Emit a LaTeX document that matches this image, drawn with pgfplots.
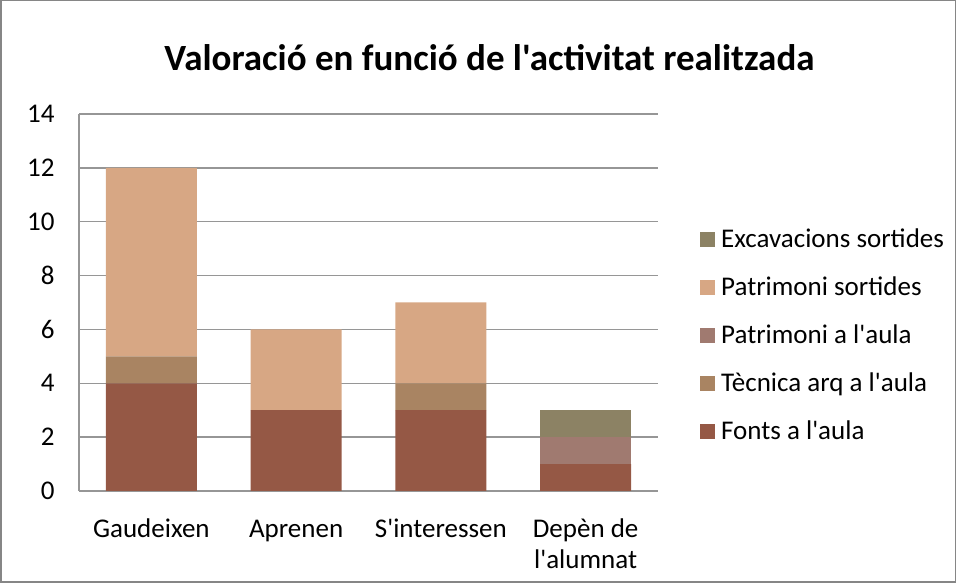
\documentclass[border=0pt]{standalone}
\usepackage{pgfplots}
\pgfplotsset{compat=1.18}
\usepackage{fontspec}
\setmainfont{Carlito}[Ligatures=TeXOff]
\definecolor{cFonts}{RGB}{149,88,69}
\definecolor{cTec}{RGB}{169,132,98}
\definecolor{cPatA}{RGB}{160,122,112}
\definecolor{cPatS}{RGB}{215,167,132}
\definecolor{cExc}{RGB}{140,130,100}
\definecolor{gridgray}{RGB}{150,150,150}
\definecolor{framegray}{RGB}{134,134,134}
\begin{document}
\begin{tikzpicture}[x=1pt,y=1pt]
\useasboundingbox (0,0) rectangle (956,583);
\draw[line width=1.5pt, color=framegray] (0.75,0.75) rectangle (955.25,582.25);
\node[font=\fontsize{37}{44}\selectfont\bfseries, anchor=base, inner sep=0pt] at (489.5,512) {Valoració en funció de l'activitat realitzada};
\begin{axis}[
  at={(79pt,92pt)}, anchor=south west, scale only axis,
  width=579pt, height=377pt,
  ybar stacked, bar width=91pt,
  xmin=-0.5, xmax=3.5, ymin=0, ymax=14,
  ytick={0,2,...,14},
  xtick={0,1,2,3},
  xticklabels={\strut Gaudeixen, \strut Aprenen, \strut S'interessen, {\strut Depèn de\\l'alumnat}},
  xticklabel style={align=center, font=\fontsize{27}{31}\selectfont, yshift=-21pt},
  yticklabel style={font=\fontsize{27}{31}\selectfont, xshift=-21pt},
  /pgf/number format/assume math mode=true,
  axis lines=left,
  axis line style={-, draw=gridgray, line width=1.5pt},
  ymajorgrids, grid style={gridgray, line width=1.5pt},
  major tick length=0pt,
  legend style={at={(1.0725,0.406)}, anchor=west, draw=none, fill=none,
    inner sep=0pt, row sep=24pt,
    font=\fontsize{27}{31}\selectfont,
    nodes={inner sep=0pt, text height=18pt, text depth=6pt, anchor=base west}},
  reverse legend,
  legend cell align=left,
  legend image code/.code={\fill[#1] (0pt,0.5pt) rectangle (15pt,15.5pt); \path[draw=none,fill=none] (0pt,1pt) rectangle (21pt,2pt);},
  draw=none,
]
\addplot[fill=cFonts, draw=none] coordinates {(0,4) (1,3) (2,3) (3,1)};
\addlegendentry{Fonts a l'aula}
\addplot[fill=cTec, draw=none] coordinates {(0,1) (1,0) (2,1) (3,0)};
\addlegendentry{Tècnica arq a l'aula}
\addplot[fill=cPatA, draw=none] coordinates {(0,0) (1,0) (2,0) (3,1)};
\addlegendentry{Patrimoni a l'aula}
\addplot[fill=cPatS, draw=none] coordinates {(0,7) (1,3) (2,3) (3,0)};
\addlegendentry{Patrimoni sortides}
\addplot[fill=cExc, draw=none] coordinates {(0,0) (1,0) (2,0) (3,1)};
\addlegendentry{Excavacions sortides}
\end{axis}
\end{tikzpicture}
\end{document}
